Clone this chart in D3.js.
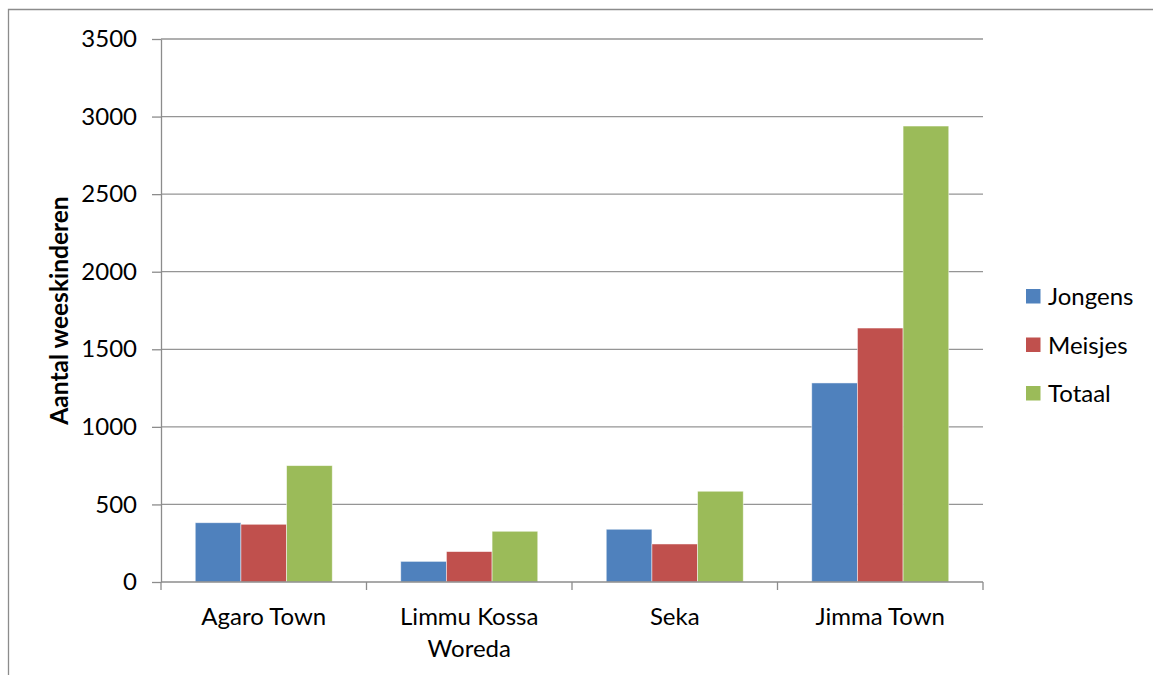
<html>
<head>
<meta charset="utf-8">
<style>
  body { margin: 0; background: #fff; }
  text { font-family: Lato, "Open Sans", sans-serif; fill: #000; }
  .grid line { stroke: #959595; stroke-width: 1.3px; }
  .axis path, .axis line { stroke: #8c8c8c; stroke-width: 1.3px; }
</style>
</head>
<body>
<script src="https://cdn.jsdelivr.net/npm/d3@7"></script>
<script>
var categories = [["Agaro Town"], ["Limmu Kossa", "Woreda"], ["Seka"], ["Jimma Town"]];
var series = ["Jongens", "Meisjes", "Totaal"];
var jongens = [382, 133, 340, 1283];
var meisjes = [372, 196, 245, 1637];
var totaal = [750, 327, 585, 2939];
var yTicks = [0, 500, 1000, 1500, 2000, 2500, 3000, 3500];
var colors = ["#4f81bd", "#c0504d", "#9bbb59"];

var width = 1153, height = 675;
var margin = {left: 161, right: 170, top: 39, bottom: 93};

var svg = d3.select("body").append("svg")
    .attr("width", width)
    .attr("height", height);

// outer chart border (only top and left visible)
svg.append("path")
    .attr("d", "M8.5,675 L8.5,9.5 L1153,9.5")
    .attr("fill", "none")
    .attr("stroke", "#8c8c8c")
    .attr("stroke-width", 1.3);

var x0 = d3.scaleBand()
    .domain(d3.range(categories.length))
    .range([margin.left, width - margin.right]);

var x1 = d3.scaleBand()
    .domain(series)
    .range([x0.bandwidth() / 6, x0.bandwidth() * 5 / 6]);

var y = d3.scaleLinear()
    .domain([0, 3500])
    .range([height - margin.bottom, margin.top]);

// gridlines
svg.append("g").attr("class", "grid")
  .selectAll("line")
  .data(yTicks.filter(d => d > 0))
  .join("line")
    .attr("x1", margin.left)
    .attr("x2", width - margin.right)
    .attr("y1", d => y(d))
    .attr("y2", d => y(d));

// y axis
var yAxis = svg.append("g").attr("class", "axis")
    .attr("transform", "translate(" + margin.left + ",0)")
    .call(d3.axisLeft(y).tickValues(yTicks).tickFormat(d3.format("d"))
      .tickSize(9).tickSizeOuter(0).tickPadding(15));
yAxis.selectAll("text").attr("font-size", 24).attr("font-family", "Lato");

// bars
var rows = categories.map((c, i) => ({i: i, values: [jongens[i], meisjes[i], totaal[i]]}));
svg.append("g")
  .selectAll("g")
  .data(rows)
  .join("g")
    .attr("transform", d => "translate(" + x0(d.i) + ",0)")
  .selectAll("rect")
  .data(d => d.values.map((v, k) => ({key: series[k], value: v, k: k})))
  .join("rect")
    .attr("x", d => x1(d.key))
    .attr("y", d => y(d.value))
    .attr("width", x1.bandwidth())
    .attr("height", d => y(0) - y(d.value))
    .attr("fill", d => colors[d.k])
    .attr("stroke", "#fff")
    .attr("stroke-opacity", 0.6)
    .attr("stroke-width", 0.8);

// x axis baseline and ticks
var xg = svg.append("g").attr("class", "axis");
xg.append("line")
    .attr("x1", margin.left).attr("x2", width - margin.right)
    .attr("y1", y(0)).attr("y2", y(0));
xg.selectAll("line.tick")
  .data(d3.range(categories.length + 1))
  .join("line")
    .attr("class", "tick")
    .attr("x1", d => margin.left + d * x0.step())
    .attr("x2", d => margin.left + d * x0.step())
    .attr("y1", y(0))
    .attr("y2", y(0) + 8);

// category labels
svg.append("g")
  .selectAll("text")
  .data(rows)
  .join("text")
    .attr("x", d => x0(d.i) + x0.bandwidth() / 2)
    .attr("y", y(0) + 43)
    .attr("text-anchor", "middle")
    .attr("font-size", 24)
  .selectAll("tspan")
  .data(d => categories[d.i].map((t, j) => ({t: t, j: j, x: x0(d.i) + x0.bandwidth() / 2})))
  .join("tspan")
    .attr("x", d => d.x)
    .attr("dy", d => d.j === 0 ? 0 : 32)
    .text(d => d.t);

// y axis title
svg.append("text")
    .attr("transform", "translate(68," + ((margin.top + height - margin.bottom) / 2) + ") rotate(-90)")
    .attr("text-anchor", "middle")
    .attr("font-size", 24.5)
    .attr("font-weight", "bold")
    .text("Aantal weeskinderen");

// legend
var legend = svg.append("g")
  .selectAll("g")
  .data(series)
  .join("g")
    .attr("transform", (d, i) => "translate(1026," + (289 + i * 48.5) + ")");
legend.append("rect")
    .attr("width", 14.5)
    .attr("height", 14.5)
    .attr("fill", (d, i) => colors[i]);
legend.append("text")
    .attr("x", 22)
    .attr("y", 16)
    .attr("font-size", 24)
    .text(d => d);
</script>
</body>
</html>
